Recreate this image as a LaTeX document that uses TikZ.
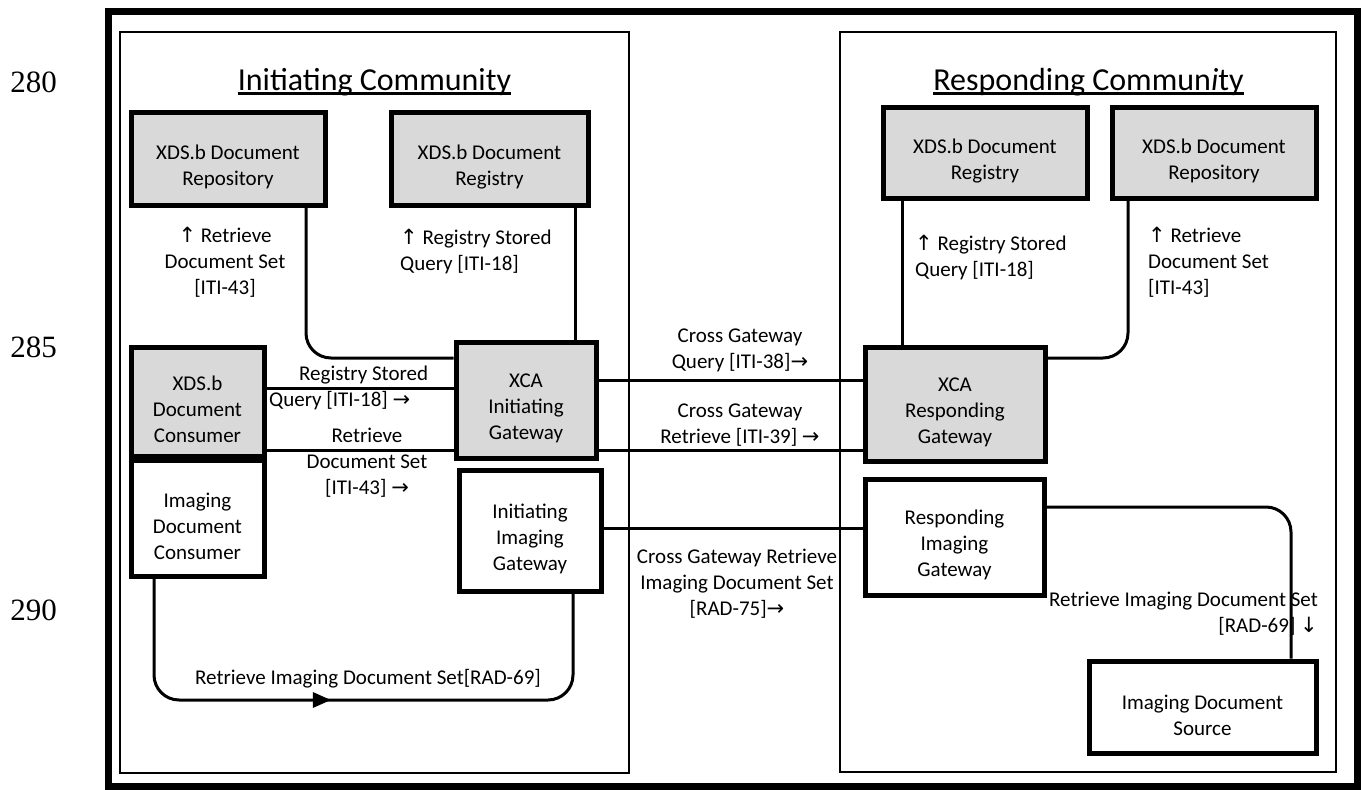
\documentclass[tikz,border=0pt]{standalone}
\usepackage{fontspec}
\setmainfont{Carlito}
\newfontfamily\symfont{DejaVu Sans}
\newfontfamily\numfont{Liberation Serif}
\usetikzlibrary{arrows.meta,decorations.markings}
\definecolor{boxgray}{HTML}{D9D9D9}
% arrow glyphs used inside the transaction labels
\newcommand\arrU{{\symfont ↑}}
\newcommand\arrR{{\symfont →}}
\newcommand\arrD{{\symfont ↓}}
% pushes the text of an actor box a little below its centre
\newcommand\bx{\rule{0pt}{31pt}}
\newcommand\bodyfont{\fontsize{21}{26}\selectfont}

\begin{document}
\begin{tikzpicture}[x=1pt,y=-1pt,
  actor/.style={draw, line width=5pt, align=center, font=\bodyfont, inner sep=0pt},
  shaded/.style={actor, fill=boxgray},
  conn/.style={line width=3pt},
  lbl/.style={font=\bodyfont, inner sep=0pt},
  title/.style={font=\fontsize{32}{38}\selectfont, inner sep=0pt, anchor=base},
  linenum/.style={font=\numfont\fontsize{31}{36}\selectfont, inner sep=0pt, anchor=base},
  community/.style={line width=1.5pt},
]
\useasboundingbox (0,0) rectangle (1361,790);

% line numbers in the margin
\node[linenum] (n280) at (33.5,92) {280};
\node[linenum] (n285) at (33.5,357) {285};
\node[linenum] (n290) at (33.5,620) {290};

% outer frame and the two communities
\draw[line width=7pt] (108,11) rectangle (1357,786.5);
\draw[community] (120,32) rectangle (629,773);
\draw[community] (840,32) rectangle (1336,772);

% community titles
\node[title] (titleL) at (374.5,90) {Initiating Community};
\draw[line width=2.5pt] ([yshift=-3.5pt]titleL.base west) -- ([yshift=-3.5pt]titleL.base east);
\node[title] (titleR) at (1088.5,90) {Responding Commun\textit{i}ty};
\draw[line width=2.5pt] ([yshift=-3.5pt]titleR.base west) -- ([yshift=-3.5pt]titleR.base east);

% initiating community actors
\node[shaded, minimum width=194pt, minimum height=93pt] (iRepo) at (228,158.5) {\bx XDS.b Document\\Repository};
\node[shaded, minimum width=197pt, minimum height=93pt] (iReg) at (489.5,158.5) {\bx XDS.b Document\\Registry};
\node[shaded, minimum width=133pt, minimum height=109pt] (cons) at (197.5,401.5) {\bx XDS.b\\Document\\Consumer};
\node[actor, minimum width=133pt, minimum height=116pt] (imgCons) at (197.5,518) {\bx Imaging\\Document\\Consumer};
\node[shaded, minimum width=140pt, minimum height=116pt] (xcaI) at (526,400) {\bx XCA\\Initiating\\Gateway};
\node[actor, minimum width=142pt, minimum height=121pt] (imgI) at (530,530.5) {\bx Initiating\\Imaging\\Gateway};

% responding community actors
\node[shaded, minimum width=204pt, minimum height=91pt] (rReg) at (985,152.5) {\bx XDS.b Document\\Registry};
\node[shaded, minimum width=204pt, minimum height=91pt] (rRepo) at (1214,152.5) {\bx XDS.b Document\\Repository};
\node[shaded, minimum width=180pt, minimum height=114pt] (xcaR) at (955,404) {\bx XCA\\Responding\\Gateway};
\node[actor, minimum width=179pt, minimum height=116pt] (imgR) at (954.5,537) {\bx Responding\\Imaging\\Gateway};
\node[actor, minimum width=227pt, minimum height=92pt] (src) at (1202.5,707) {\bx Imaging Document\\Source};

% transactions inside the initiating community
\draw[conn, rounded corners=25pt] ([xshift=78pt]iRepo.south) |- ([yshift=42pt]xcaI.west);
\draw[conn] ([xshift=85.5pt]iReg.south) -- ([xshift=85.5pt]iReg.south |- xcaI.north);
\draw[conn] ([yshift=13.5pt]cons.east) -- ([yshift=13.5pt]cons.east -| xcaI.west);
\draw[conn] ([yshift=-48.5pt]cons.east) -- ([yshift=-48.5pt]cons.east -| xcaI.west);
\coordinate (runY) at (0,700);
\draw[conn, rounded corners=25pt, postaction={decorate},
  decoration={markings, mark=at position 0.46 with {\arrow{Triangle[length=18pt,width=15pt]}}}]
  ([xshift=-43.5pt]imgCons.south) -- ([xshift=-43.5pt]imgCons.south |- runY)
  -| ([xshift=43pt]imgI.south);

% cross-community transactions
\draw[conn] ([yshift=20pt]xcaI.east) -- ([yshift=20pt]xcaI.east -| xcaR.west);
\draw[conn] ([yshift=-50pt]xcaI.east) -- ([yshift=-50pt]xcaI.east -| xcaR.west);
\draw[conn] ([yshift=2.5pt]imgI.east) -- ([yshift=2.5pt]imgI.east -| imgR.west);

% transactions inside the responding community
\draw[conn] ([xshift=-83pt]rReg.south) -- ([xshift=-83pt]rReg.south |- xcaR.north);
\draw[conn, rounded corners=25pt] ([xshift=-86pt]rRepo.south) |- ([yshift=46pt]xcaR.east);
\draw[conn, rounded corners=25pt] ([yshift=30pt]imgR.east) -| ([xshift=88.5pt]src.north);

% transaction labels
\node[lbl, align=center] (l1) at (225,262) {\arrU{} Retrieve\\Document Set\\{[ITI-43]}};
\node[lbl, align=left, anchor=west] (l2) at (400,251) {\arrU{} Registry Stored\\Query [ITI-18]};
\node[lbl, align=left, anchor=west] (l3) at (269,388) {\hspace*{30pt}Registry Stored\\Query [ITI-18] \arrR};
\node[lbl, align=center] (l4) at (367,463) {Retrieve\\Document Set\\{[ITI-43]} \arrR};
\node[lbl, align=center] (l5) at (740,350) {Cross Gateway\\Query [ITI-38]\arrR};
\node[lbl, align=center] (l6) at (740,425) {Cross Gateway\\Retrieve [ITI-39] \arrR};
\node[lbl, align=center] (l7) at (737,584) {Cross Gateway Retrieve\\Imaging Document Set\\{[RAD-75]}\arrR};
\node[lbl, align=left, anchor=west] (l8) at (915,257) {\arrU{} Registry Stored\\Query [ITI-18]};
\node[lbl, align=left, anchor=west] (l9) at (1148,262) {\arrU{} Retrieve\\Document Set\\{[ITI-43]}};
\node[lbl, align=right, anchor=east] (l10) at (1318,614) {Retrieve Imaging Document Set\\{[RAD-69]} \arrD};
\node[lbl, align=center] (l11) at (368,679) {Retrieve Imaging Document Set[RAD-69]};
\end{tikzpicture}
\end{document}
